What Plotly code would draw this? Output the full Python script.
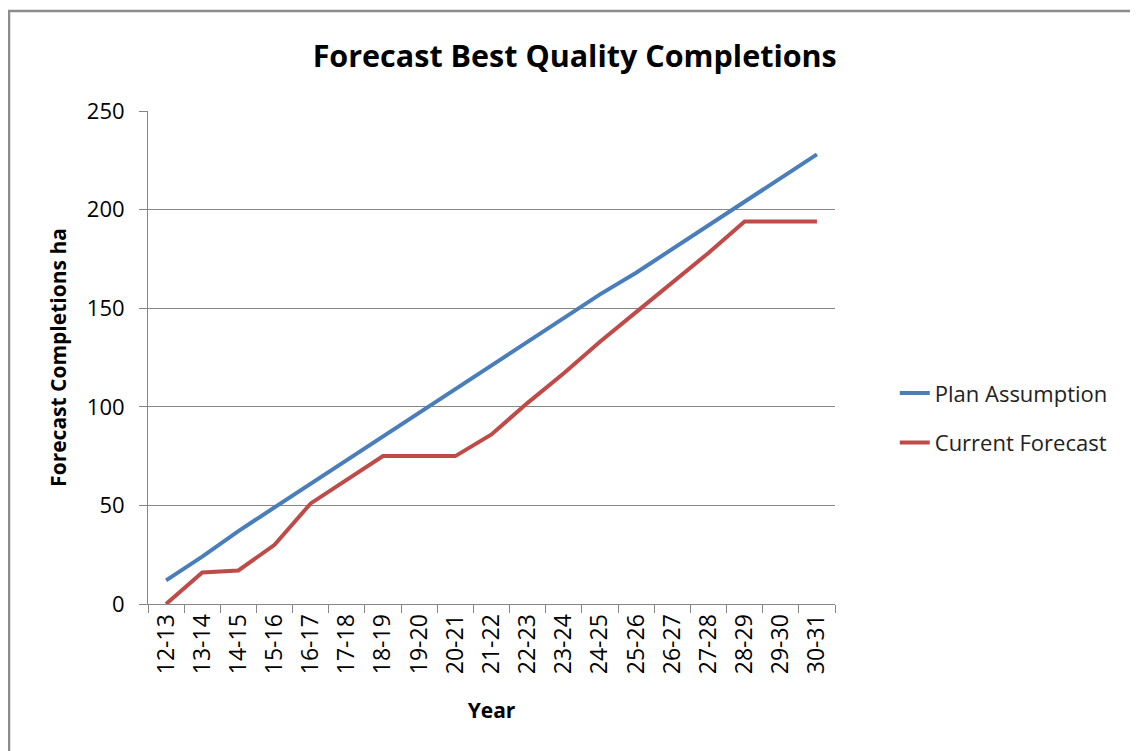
"""Forecast Best Quality Completions — gráfico de linhas (Plotly)."""

import plotly.graph_objects as go

anos = [
    "12-13", "13-14", "14-15", "15-16", "16-17", "17-18", "18-19", "19-20",
    "20-21", "21-22", "22-23", "23-24", "24-25", "25-26", "26-27", "27-28",
    "28-29", "29-30", "30-31",
]
plan_assumption = [12, 24, 37, 49, 61, 73, 85, 97, 109, 121, 133, 145, 157, 168, 180, 192, 204, 216, 228]
current_forecast = [0, 16, 17, 30, 51, 63, 75, 75, 75, 86, 102, 117, 133, 148, 163, 178, 194, 194, 194]

FONTE = "'Open Sans', Lato, sans-serif"
CINZA = "#868686"

fig = go.Figure()
fig.add_trace(go.Scatter(
    x=anos, y=plan_assumption, mode="lines", name="Plan Assumption",
    legendgroup="plan", line=dict(color="#4a7ebb", width=4),
))
fig.add_trace(go.Scatter(
    x=anos, y=current_forecast, mode="lines", name="Current Forecast",
    legendgroup="atual", line=dict(color="#be4b48", width=4),
))

fig.update_layout(
    width=1138, height=751,
    margin=dict(l=140, r=311, t=103, b=155),
    paper_bgcolor="white", plot_bgcolor="white",
    font=dict(family=FONTE, color="black", size=21),
    title=dict(
        text="<b>Forecast Best Quality Completions</b>",
        x=0.498, xanchor="center", y=0.935, yanchor="middle",
        font=dict(size=30.5, family=FONTE),
    ),
    legend=dict(
        x=1.087, xanchor="left", y=0.377, yanchor="middle",
        font=dict(size=22, family=FONTE, color="#222"),
        tracegroupgap=18,
    ),
    showlegend=True,
)

fig.update_xaxes(
    type="category", range=[-0.5, len(anos) - 0.5],
    showline=True, linecolor=CINZA, linewidth=1,
    ticks="outside", tickson="boundaries", ticklen=8, tickcolor=CINZA,
    tickangle=-90, showgrid=False,
    tickfont=dict(size=23),
    title=dict(text="<b>Year</b>", font=dict(size=21), standoff=30),
)
fig.update_yaxes(
    range=[0, 250], dtick=50,
    showline=True, linecolor=CINZA, linewidth=1,
    ticks="outside", ticklen=8, tickcolor=CINZA, ticklabelstandoff=10,
    showgrid=True, gridcolor=CINZA, gridwidth=1, zeroline=False,
    tickfont=dict(size=22),
    title=dict(text="<b>Forecast Completions ha</b>", font=dict(size=21), standoff=14),
)

# moldura cinza em volta da área do gráfico
fig.add_shape(
    type="rect", xref="paper", yref="paper",
    x0=(1 - 140) / 687, x1=(1160 - 140) / 687,
    y0=(596 - 780) / 493, y1=(596 - 3) / 493,
    line=dict(color="#8c8c8c", width=2.5), layer="below",
)

fig.write_html("out.html")
